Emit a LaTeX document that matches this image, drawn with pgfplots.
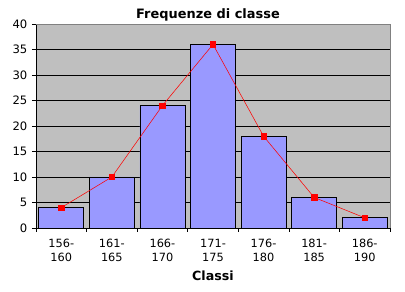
\documentclass[border=0pt]{standalone}
\usepackage{fontspec}
\setmainfont{DejaVu Sans}
\usepackage{pgfplots}
\pgfplotsset{compat=1.18}
\begin{document}
\begin{tikzpicture}[x=0.75pt,y=0.75pt]
\useasboundingbox (0,0) rectangle (405,292);
\node[font=\bfseries\fontsize{9.7}{11}\selectfont] at (208,277) {Frequenze di classe};
\node[font=\bfseries\fontsize{9.5}{11}\selectfont] at (213,16) {Classi};
\begin{axis}[
  at={(36*0.75pt,64*0.75pt)}, anchor=south west,
  scale only axis, width=354*0.75pt, height=204*0.75pt,
  xmin=-0.5, xmax=6.5, ymin=0, ymax=40,
  ytick={0,5,...,40},
  xtick={0,...,6},
  xticklabels={156-\\160,161-\\165,166-\\170,171-\\175,176-\\180,181-\\185,186-\\190},
  x tick label style={align=center, font=\fontsize{8.5}{10.5}\selectfont, yshift=-2pt},
  y tick label style={font=\fontsize{8.7}{9}\selectfont},
  /pgf/number format/assume math mode=true,
  minor xtick={-0.5,0.5,...,6.5},
  tick align=outside,
  major tick length=3pt, minor tick length=3pt,
  x tick style={draw=none},
  minor x tick style={draw=black, thin},
  y tick style={black, thin},
  ymajorgrids, grid style={black, line width=0.6pt},
  axis background/.style={fill=black!25},
  axis x line*=bottom, axis y line*=left,
  x axis line style={black, thin}, y axis line style={black, thin},
  clip=false,
]
\draw[black!50] (axis cs:-0.5,40) -- (axis cs:6.5,40) -- (axis cs:6.5,0);
\addplot[ybar, bar width=0.89, fill=blue!40!white, draw=black, line width=0.6pt]
  coordinates {(0,4) (1,10) (2,24) (3,36) (4,18) (5,6) (6,2)};
\addplot[red, thin, mark=square*, mark size=2pt, mark options={fill=red, draw=red}]
  coordinates {(0,4) (1,10) (2,24) (3,36) (4,18) (5,6) (6,2)};
\end{axis}
\end{tikzpicture}
\end{document}
